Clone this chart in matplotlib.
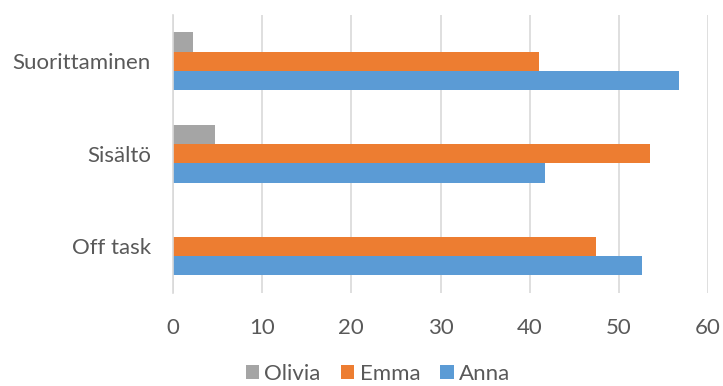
import matplotlib.pyplot as plt
import numpy as np

categories = ["Off task", "Sisältö", "Suorittaminen"]
anna = [52.6, 41.7, 56.7]
emma = [47.4, 53.5, 41.0]
olivia = [0.0, 4.7, 2.2]

plt.rcParams['font.family'] = ['Lato', 'DejaVu Sans']

fig = plt.figure(figsize=(7.23, 3.86), dpi=100)
ax = fig.add_axes([173 / 723, 1 - 292.5 / 386, 535 / 723, 277.5 / 386])

y = np.arange(len(categories))
h = 0.208
ax.barh(y - h, anna, height=h, color='#5B9BD5', label='Anna')
ax.barh(y, emma, height=h, color='#ED7D31', label='Emma')
ax.barh(y + h, olivia, height=h, color='#A5A5A5', label='Olivia')

ax.set_xlim(0, 60)
ax.set_ylim(-0.5, 2.5)
ax.set_xticks(range(0, 61, 10))
ax.set_yticks(y)
ax.set_yticklabels(categories)
ax.tick_params(length=0, labelsize=16, colors='#595959')
ax.tick_params(axis='y', pad=16)
ax.tick_params(axis='x', pad=18)
ax.grid(axis='x', color='#D9D9D9', linewidth=1.2)
ax.set_axisbelow(True)
for s in ['top', 'right', 'bottom']:
    ax.spines[s].set_visible(False)
ax.spines['left'].set_color('#D9D9D9')
ax.spines['left'].set_linewidth(1.2)

handles, labels = ax.get_legend_handles_labels()
fig.legend(handles[::-1], labels[::-1], loc='center', bbox_to_anchor=(378 / 723, 1 - 374 / 386),
           ncol=3, frameon=False, fontsize=16, labelcolor='#595959',
           handlelength=0.6, handleheight=0.6, handletextpad=0.25, columnspacing=0.9)

fig.savefig('out.png', dpi=100)
